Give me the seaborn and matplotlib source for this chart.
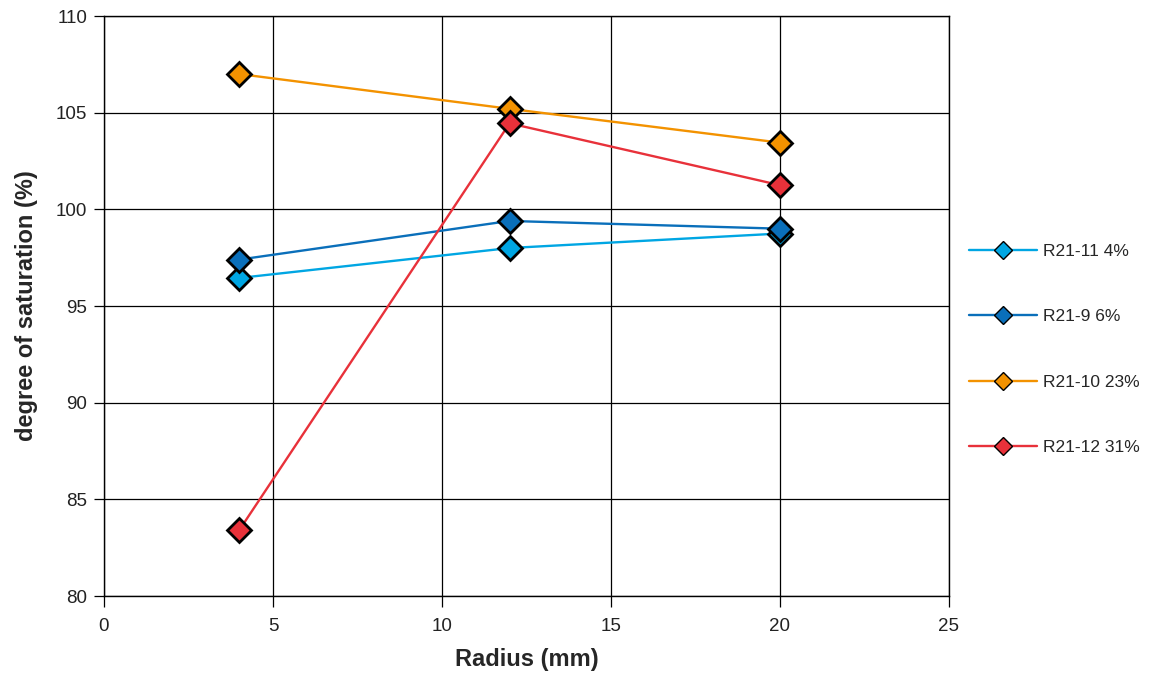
import matplotlib
matplotlib.use("Agg")
import matplotlib.pyplot as plt
import seaborn as sns
import pandas as pd

radius = [4, 12, 20]
series_names = ["R21-11 4%", "R21-9 6%", "R21-10 23%", "R21-12 31%"]
r21_11 = [96.45, 98.0, 98.75]
r21_9 = [97.4, 99.4, 99.0]
r21_10 = [107.0, 105.2, 103.45]
r21_12 = [83.4, 104.45, 101.25]
colors = ["#00A6E3", "#0A6FBA", "#F39200", "#E8313A"]

values = [r21_11, r21_9, r21_10, r21_12]
df = pd.DataFrame({
    "Radius": radius * len(series_names),
    "value": [v for s in values for v in s],
    "series": [n for n in series_names for _ in radius],
})

sns.set_theme(style="white")
plt.rcParams["font.family"] = ["Liberation Sans", "DejaVu Sans"]
plt.rcParams.update({
    "xtick.bottom": True, "ytick.left": True,
    "xtick.major.size": 8, "ytick.major.size": 7,
    "xtick.major.width": 0.9, "ytick.major.width": 0.9,
    "xtick.color": "black", "ytick.color": "black",
    "xtick.direction": "out", "ytick.direction": "out",
})

fig = plt.figure(figsize=(11.59, 6.73), dpi=100)
ax = fig.add_axes([0.0897, 0.1144, 0.7291, 0.8618])

for name, col in zip(series_names, colors):
    sub = df[df["series"] == name]
    sns.lineplot(data=sub, x="Radius", y="value", ax=ax, color=col, label=name,
                 marker="D", markersize=12.5, markeredgecolor="black",
                 markeredgewidth=2, linewidth=1.7, estimator=None, sort=False)

ax.set_xlim(0, 25)
ax.set_ylim(80, 110)
ax.set_xticks(range(0, 26, 5))
ax.set_yticks(range(80, 111, 5))
ax.grid(True, color="black", linewidth=0.9)
ax.set_axisbelow(True)
for sp in ax.spines.values():
    sp.set_color("black")
    sp.set_linewidth(1.0)
ax.tick_params(axis="y", which="major", direction="out", length=7, width=0.9,
               color="black", labelsize=13.5, labelcolor="#222222", left=True, pad=5)
ax.tick_params(axis="x", which="major", direction="out", length=8, width=0.9,
               color="black", labelsize=13.5, labelcolor="#222222", bottom=True, pad=8)
ax.set_xlabel("Radius (mm)", fontsize=17, fontweight="bold", labelpad=9)
ax.set_ylabel("degree of saturation (%)", fontsize=17, fontweight="bold", labelpad=13)

leg = ax.legend(loc="center left", bbox_to_anchor=(1.005, 0.425), frameon=False,
                fontsize=12.5, labelspacing=2.9, handlelength=3.9, handletextpad=0.4)
for h in leg.legend_handles:
    h.set_markersize(9)
    h.set_markeredgewidth(1)

fig.savefig("out.png", dpi=100)
